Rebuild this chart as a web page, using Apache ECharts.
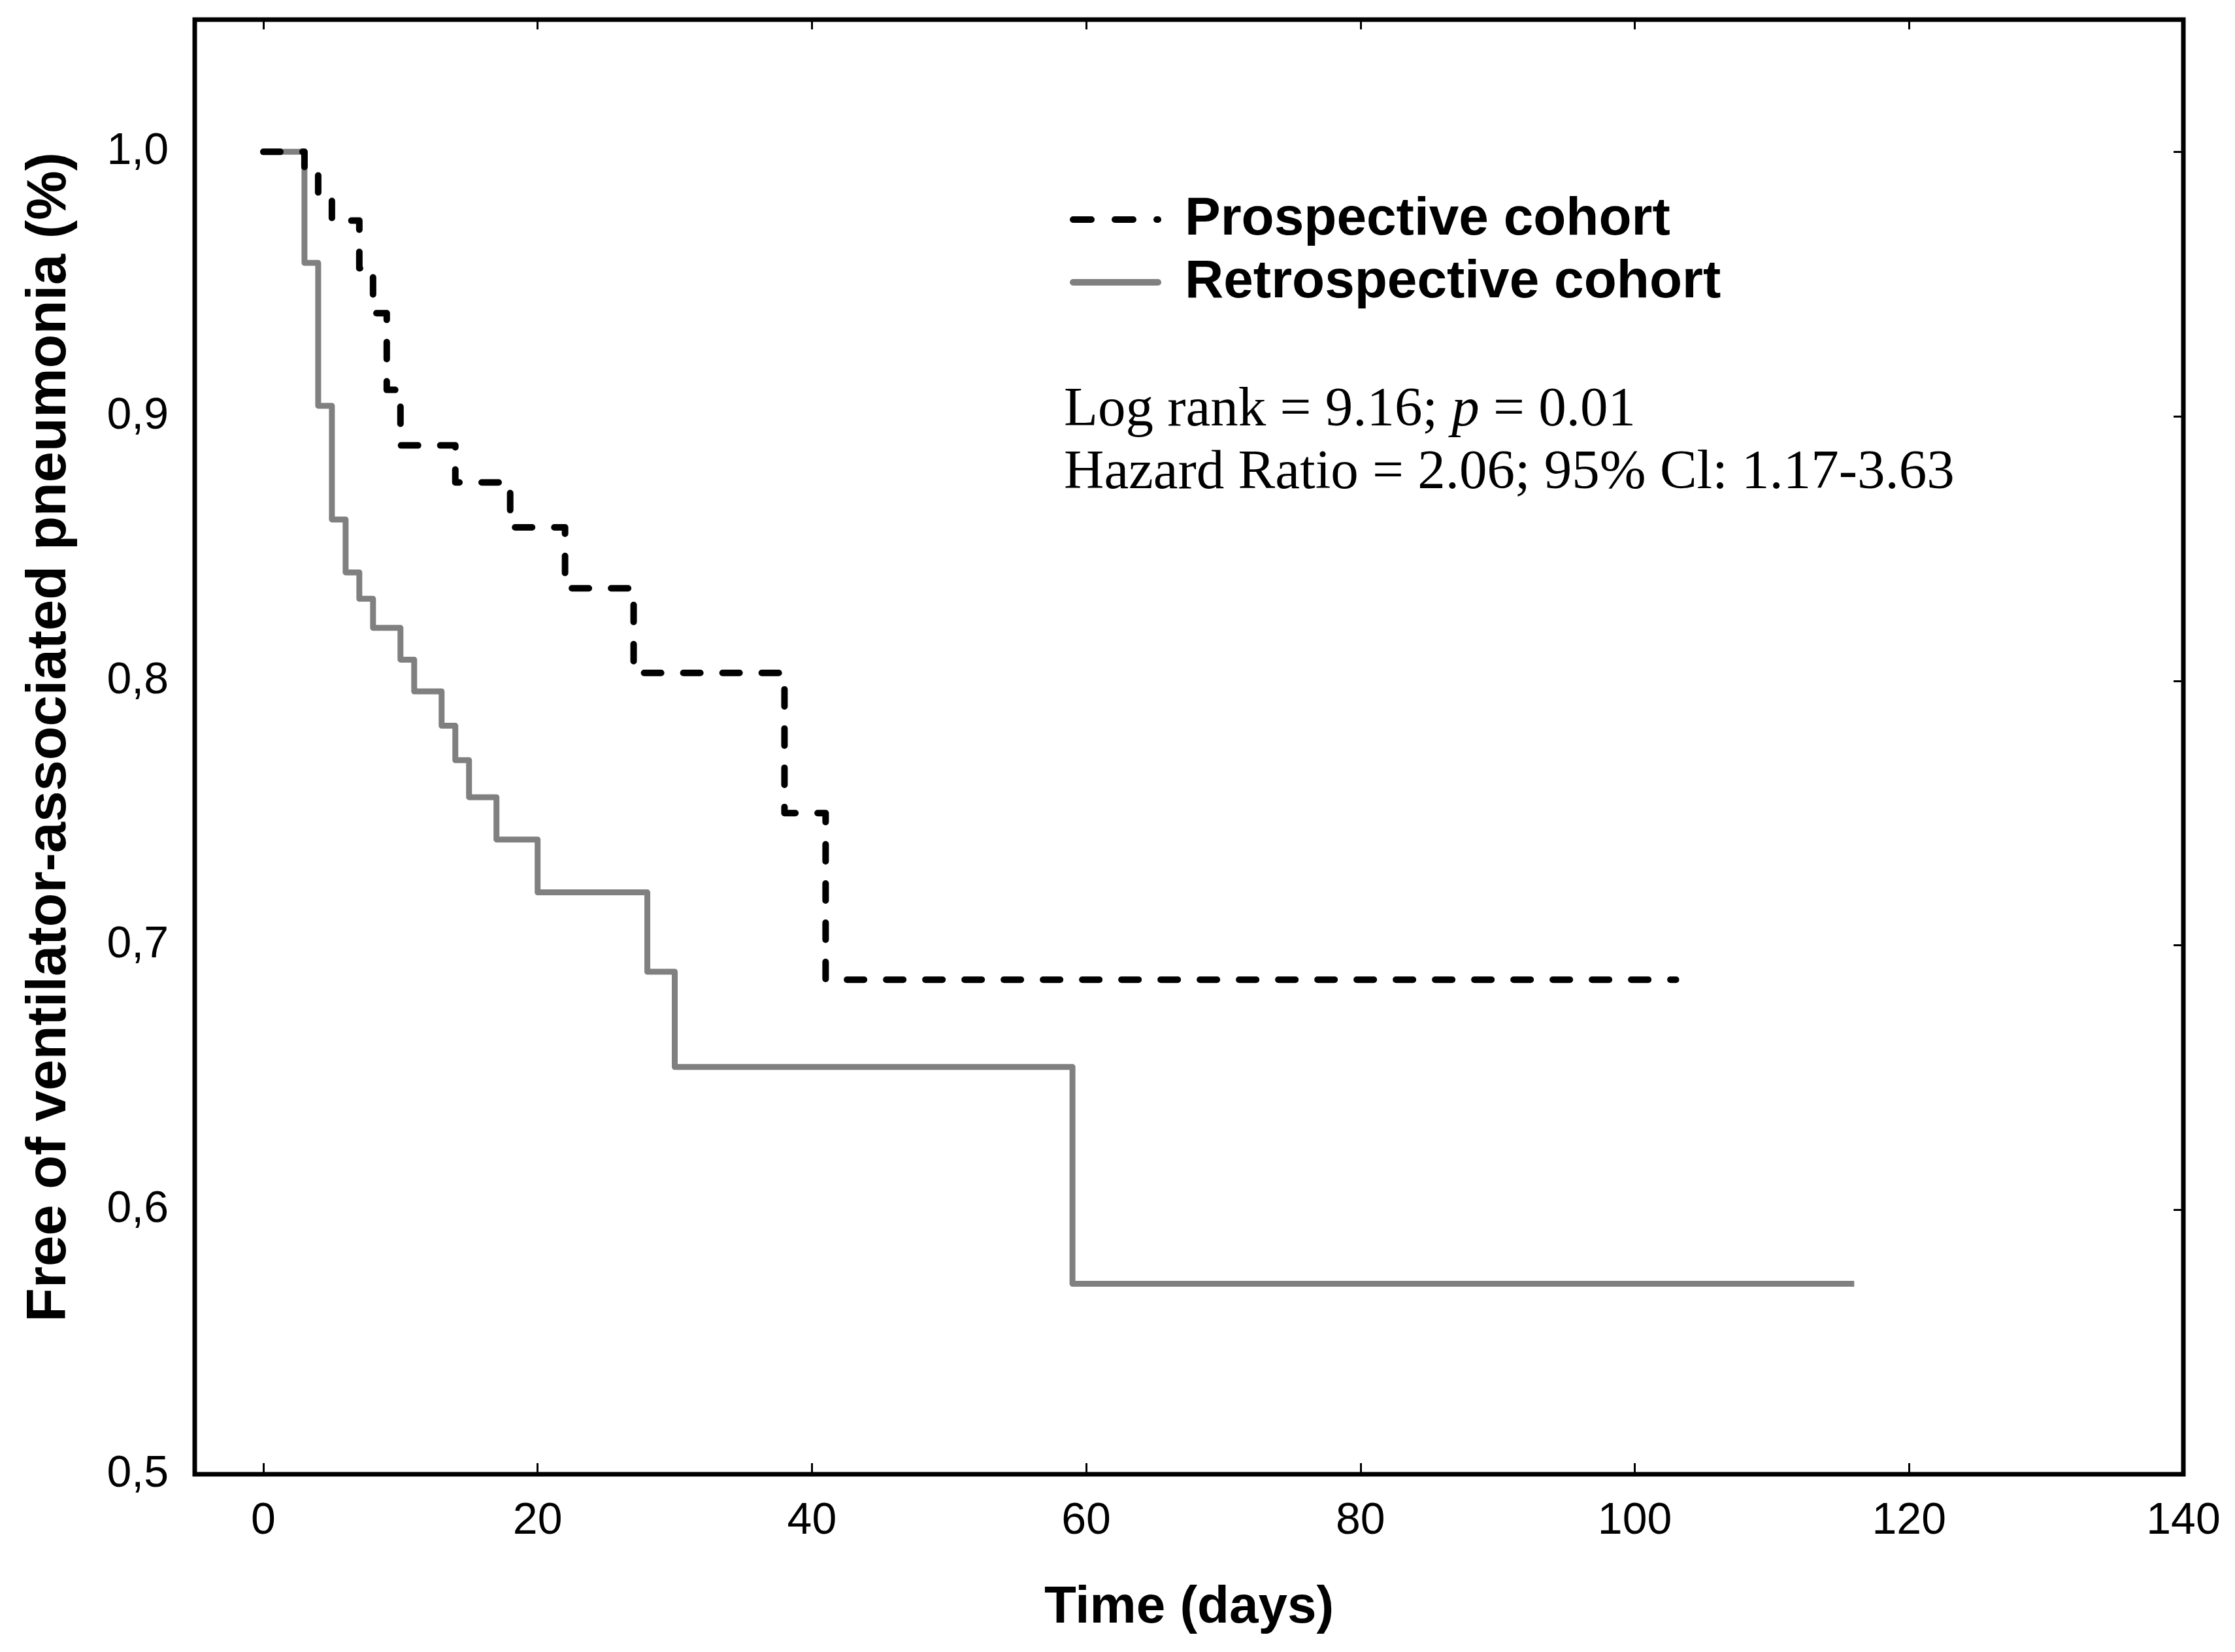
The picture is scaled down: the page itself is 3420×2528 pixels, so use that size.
<!DOCTYPE html>
<html>
<head>
<meta charset="utf-8">
<script src="https://cdn.jsdelivr.net/npm/echarts@6/dist/echarts.min.js"></script>
<style>html,body{margin:0;padding:0;background:#fff}#c{width:3420px;height:2528px}</style>
</head>
<body>
<div id="c"></div>
<script>
// Kaplan-Meier steps: [day, proportion free of VAP]
const prospectiveDays   = [0, 3, 4, 5, 7, 8, 9, 10, 14, 18, 22, 27, 38, 41, 103];
const prospectiveValues = [1.0, 0.994, 0.983, 0.974, 0.956, 0.939, 0.910, 0.889, 0.875, 0.858, 0.835, 0.803, 0.750, 0.687, 0.687];
const retrospectiveDays   = [0, 3, 4, 5, 6, 7, 8, 10, 11, 13, 14, 15, 17, 20, 28, 30, 59, 116];
const retrospectiveValues = [1.0, 0.958, 0.904, 0.861, 0.841, 0.831, 0.820, 0.808, 0.796, 0.783, 0.770, 0.756, 0.740, 0.720, 0.690, 0.654, 0.572, 0.572];
const xTickValues = [0, 20, 40, 60, 80, 100, 120, 140];
const yTickValues = [0.5, 0.6, 0.7, 0.8, 0.9, 1.0];
const seriesNames = ['Prospective cohort', 'Retrospective cohort'];
const annotationLines = ['Log rank = 9.16; ', 'p', ' = 0.01', 'Hazard Ratio = 2.06; 95% Cl: 1.17-3.63'];

const zip = (a, b) => a.map((d, i) => [d, b[i]]);
const sans = 'Liberation Sans, Arial, sans-serif';
const serif = 'Liberation Serif, Times New Roman, serif';
const dashPattern = [26, 34];
const hiddenSymbol = { color: 'transparent', borderWidth: 0, borderColor: 'transparent', opacity: 0 };

const chart = echarts.init(document.getElementById('c'));
chart.setOption({
  animation: false,
  backgroundColor: '#fff',
  grid: { left: 298, right: 79, top: 30, bottom: 272, show: true, borderColor: '#000', borderWidth: 7, backgroundColor: 'transparent' },
  xAxis: [{
    type: 'value', min: -5, max: 140, position: 'bottom',
    name: 'Time (days)', nameLocation: 'middle', nameGap: 160,
    nameTextStyle: { fontFamily: sans, fontWeight: 'bold', fontSize: 80, color: '#000', lineHeight: 90 },
    axisLine: { show: false, onZero: false },
    axisTick: { show: true, inside: true, length: 17, customValues: xTickValues, lineStyle: { color: '#000', width: 3 } },
    axisLabel: { show: true, customValues: xTickValues, margin: 38, fontFamily: sans, fontSize: 68, color: '#000' },
    splitLine: { show: false }
  }, {
    type: 'value', min: -5, max: 140, position: 'top',
    axisLine: { show: false, onZero: false },
    axisTick: { show: true, inside: true, length: 15, customValues: xTickValues, lineStyle: { color: '#000', width: 3 } },
    axisLabel: { show: false },
    splitLine: { show: false }
  }],
  yAxis: [{
    type: 'value', min: 0.5, max: 1.05, position: 'left',
    name: 'Free of ventilator-associated pneumonia (%)', nameLocation: 'middle', nameGap: 176,
    nameTextStyle: { fontFamily: sans, fontWeight: 'bold', fontSize: 85, color: '#000', lineHeight: 90, padding: [0, 0, 0, 30] },
    axisLine: { show: false, onZero: false },
    axisTick: { show: false },
    axisLabel: { show: true, customValues: yTickValues, margin: 40, fontFamily: sans, fontSize: 68, color: '#000',
      formatter: v => v.toFixed(1).replace('.', ',') },
    splitLine: { show: false }
  }, {
    type: 'value', min: 0.5, max: 1.05, position: 'right',
    axisLine: { show: false, onZero: false },
    axisTick: { show: true, inside: true, length: 15, customValues: yTickValues, lineStyle: { color: '#000', width: 3 } },
    axisLabel: { show: false },
    splitLine: { show: false }
  }],
  legend: {
    orient: 'vertical', left: 1632, top: 283, itemGap: 0, itemWidth: 130, itemHeight: 20,
    selectedMode: false,
    itemStyle: hiddenSymbol,
    textStyle: { fontFamily: sans, fontWeight: 'bold', fontSize: 82, color: '#000', lineHeight: 96, padding: [0, 0, 0, 36] },
    data: [
      { name: seriesNames[0], itemStyle: hiddenSymbol, lineStyle: { color: '#000', width: 10, type: [28, 36], cap: 'round' } },
      { name: seriesNames[1], itemStyle: hiddenSymbol, lineStyle: { color: '#808080', width: 10, type: 'solid', cap: 'round' } }
    ]
  },
  graphic: [{
    type: 'text', left: 1628, top: 631 - 45,
    style: {
      rich: {
        n: { fontFamily: serif, fontSize: 85, fill: '#000', lineHeight: 90 },
        i: { fontFamily: serif, fontSize: 85, fill: '#000', fontStyle: 'italic', lineHeight: 90 }
      },
      text: '{n|' + annotationLines[0] + '}{i|' + annotationLines[1] + '}{n|' + annotationLines[2] + '}'
    }
  }, {
    type: 'text', left: 1628, top: 725 - 45,
    style: { text: annotationLines[3], fontFamily: serif, fontSize: 85, fill: '#000', lineHeight: 90 }
  }],
  series: [{
    name: seriesNames[0], type: 'line', step: 'end', z: 4,
    xAxisIndex: 0, yAxisIndex: 0,
    data: zip(prospectiveDays, prospectiveValues),
    symbol: 'none', showSymbol: false,
    lineStyle: { color: '#000', width: 10, type: dashPattern, cap: 'round', join: 'round' },
    itemStyle: { color: '#000' }
  }, {
    name: seriesNames[1], type: 'line', step: 'end', z: 3,
    xAxisIndex: 0, yAxisIndex: 0,
    data: zip(retrospectiveDays, retrospectiveValues),
    symbol: 'none', showSymbol: false,
    lineStyle: { color: '#808080', width: 9, type: 'solid', cap: 'butt', join: 'round' },
    itemStyle: { color: '#808080' }
  }]
});
</script>
</body>
</html>
